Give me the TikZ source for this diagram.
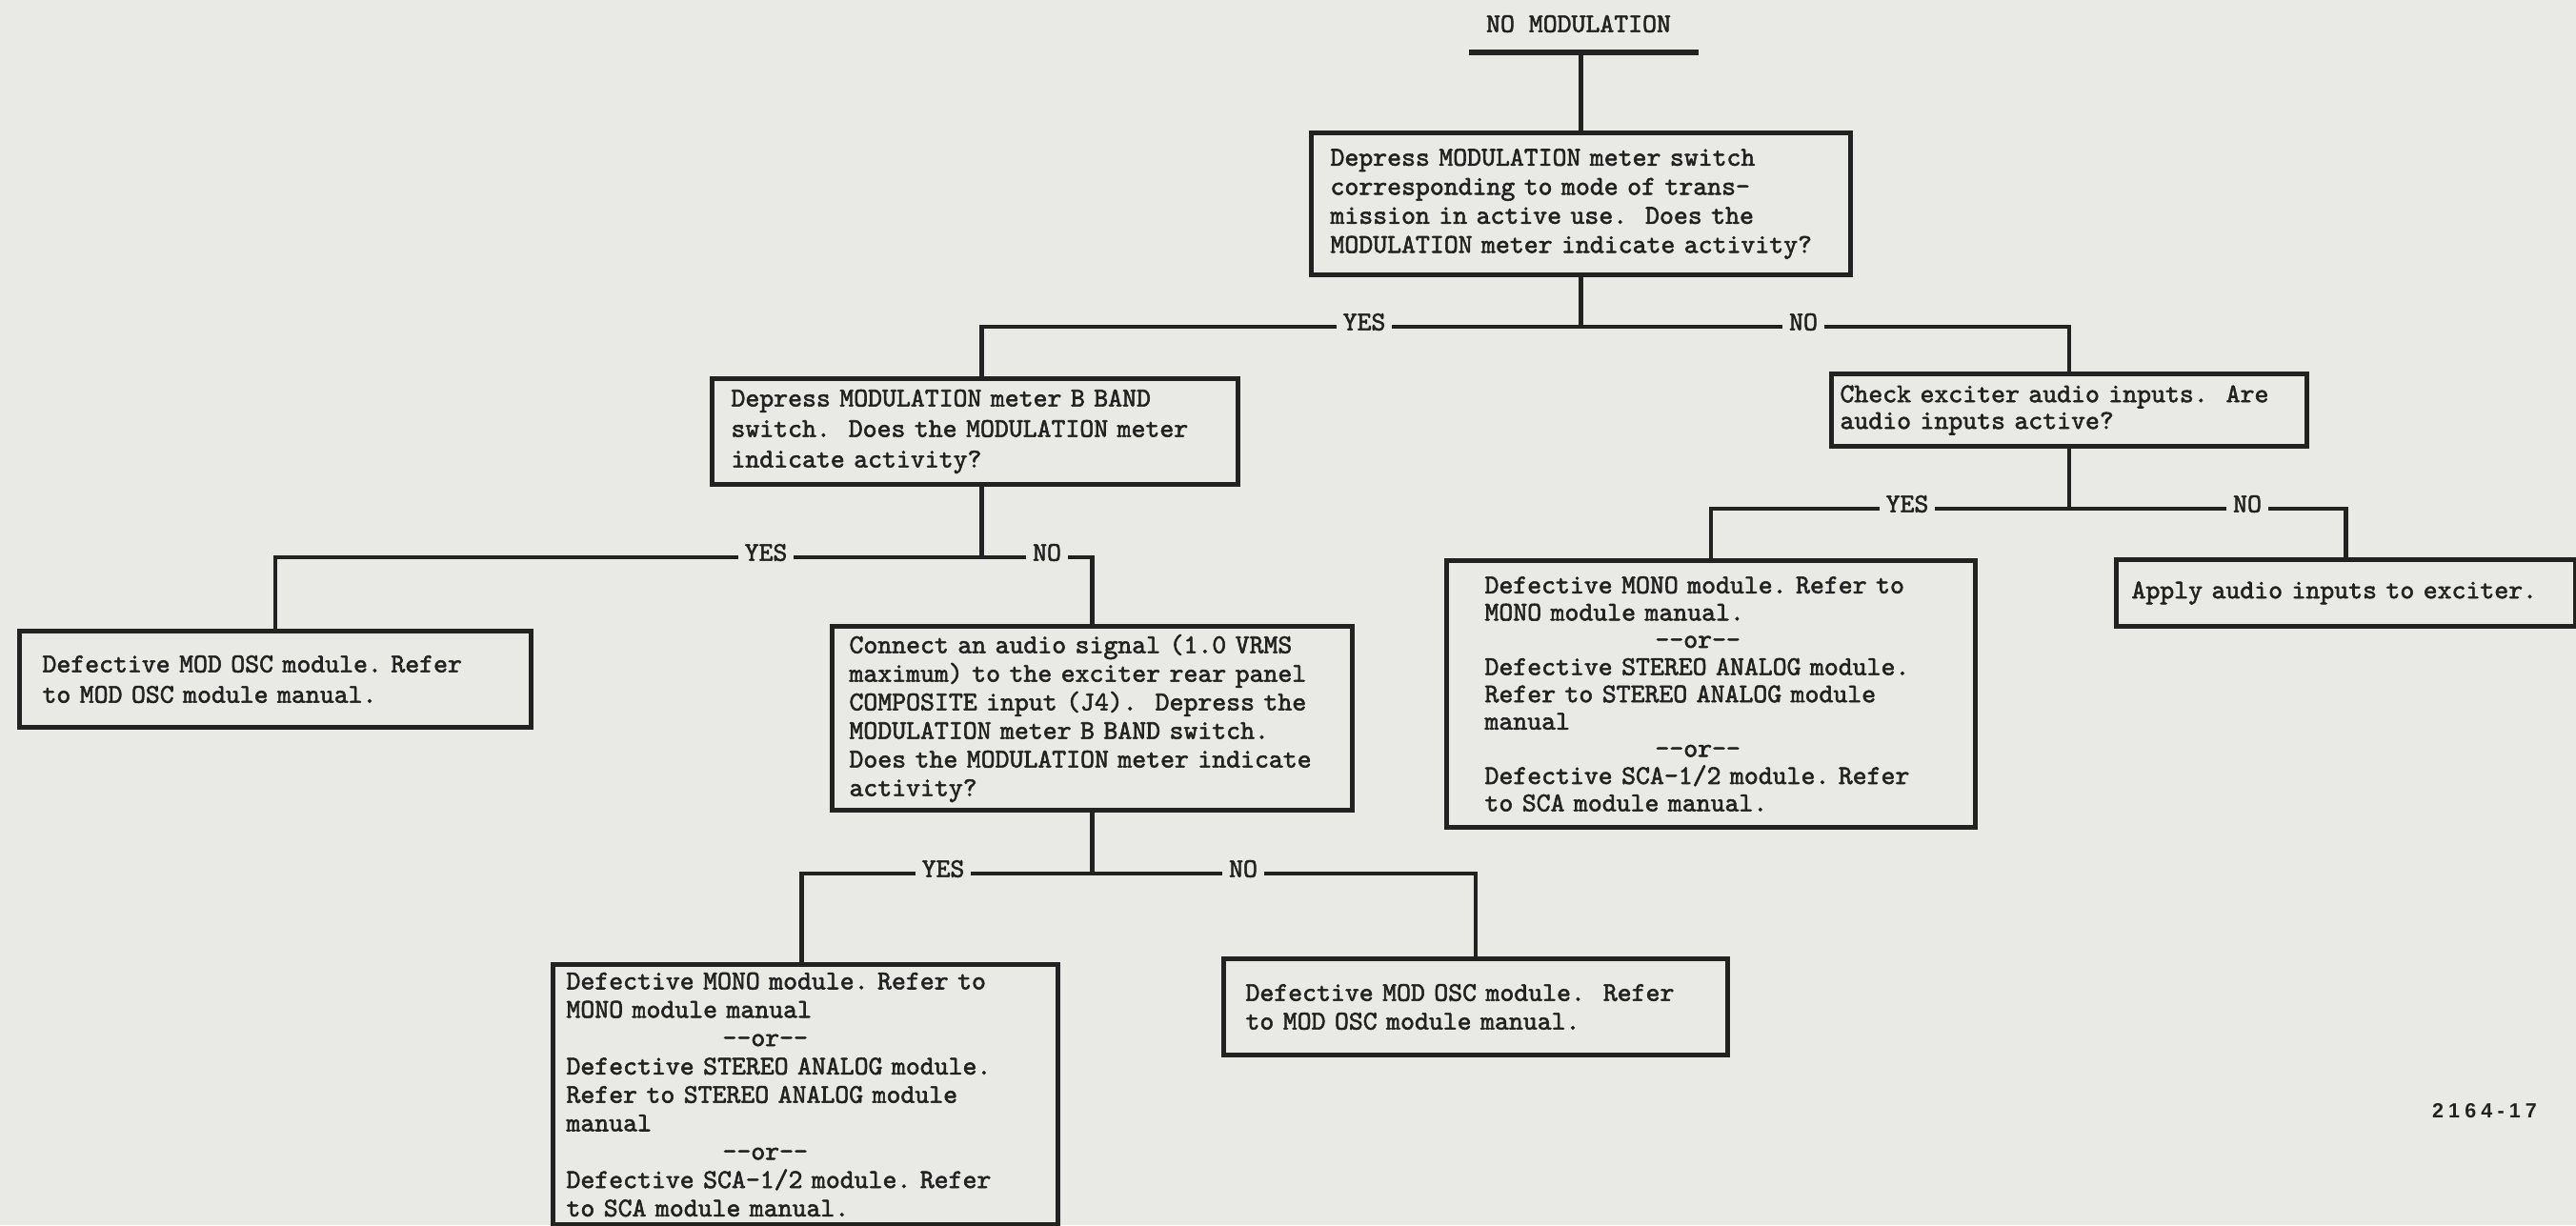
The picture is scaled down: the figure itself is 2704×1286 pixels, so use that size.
\documentclass[tikz,border=0pt]{standalone}
\usepackage{fontspec}
% typewriter face for all flowchart text, slightly heavier than the stock weight
\newfontfamily\typewriter{lmmono10-regular.otf}[FakeBold=2]
\newfontfamily\fignumfont{Liberation Sans}[LetterSpace=24]
\definecolor{paper}{RGB}{233,234,229}
\definecolor{ink}{RGB}{34,34,34}
% indentation by a number of typewriter characters
\newcommand\chars[1]{\hspace*{#1\dimexpr0.525em\relax}}
\newcommand\orline{-\kern0pt-or-\kern0pt-}
\tikzset{
  twfont/.style={font=\typewriter\fontsize{28.4}{#1}\selectfont},
  box/.style={draw=ink, line width=5pt, rectangle, anchor=north west,
    inner xsep=0pt, inner ysep=0pt, align=left, text=ink, twfont=#1},
  box/.default=30,
  wire/.style={draw=ink, line width=4.6pt},
  answer/.style={fill=paper, inner xsep=7pt, inner ysep=3pt, text=ink, twfont=30},
}
\begin{document}
\begin{tikzpicture}[x=1pt, y=-1pt, every node/.style={execute at begin node=\frenchspacing}]
\fill[paper] (0,0) rectangle (2704,1286);
\useasboundingbox (0,0) rectangle (2704,1286);

% heading and entry bar
\node[text=ink, twfont=30] (title) at (1657,25) {NO MODULATION};
\coordinate (barL) at (1542,55);
\coordinate (barR) at (1783,55);

% decision and action boxes
\node[box=30.5, minimum width=566pt, minimum height=149pt, text width=526pt] (A) at (1374,137)
  {Depress MODULATION meter switch\\corresponding to mode of trans-\\mission in active use.~ Does the\\MODULATION meter indicate activity?};
\node[box=32, minimum width=552pt, minimum height=111pt, text width=512pt] (B) at (745,395)
  {Depress MODULATION meter B BAND\\switch.~ Does the MODULATION meter\\indicate activity?};
\node[box=28, minimum width=499pt, minimum height=76pt, text width=481pt] (C) at (1920,390)
  {Check exciter audio inputs.~ Are\\audio inputs active?};
\node[box=32, minimum width=537pt, minimum height=101pt, text width=489pt] (D) at (18,660)
  {Defective MOD OSC module. Refer\\to MOD OSC module manual.};
\node[box=30, minimum width=546pt, minimum height=193pt, text width=510pt] (E) at (871,655)
  {Connect an audio signal (1.0 VRMS\\maximum) to the exciter rear panel\\COMPOSITE input (J4).~ Depress the\\MODULATION meter B BAND switch.\\Does the MODULATION meter indicate\\activity?};
\node[box=29.8, minimum width=530pt, minimum height=273pt, text width=502pt] (F) at (578,1010)
  {Defective MONO module. Refer to\\MONO module manual\\\chars{11}\orline\\Defective STEREO ANALOG module.\\Refer to STEREO ANALOG module\\manual\\\chars{11}\orline\\Defective SCA-1/2 module. Refer\\to SCA module manual.};
\node[box=30, minimum width=529pt, minimum height=101pt, text width=483pt] (G) at (1282,1004)
  {Defective MOD OSC module.~ Refer\\to MOD OSC module manual.};
\node[box=28.6, minimum width=555pt, minimum height=280pt, text width=475pt] (H) at (1516,586)
  {Defective MONO module. Refer to\\MONO module manual.\\\chars{12}\orline\\Defective STEREO ANALOG module.\\Refer to STEREO ANALOG module\\manual\\\chars{12}\orline\\Defective SCA-1/2 module. Refer\\to SCA module manual.};
\node[box=30, minimum width=482pt, minimum height=70pt, text width=450pt] (I) at (2219,585)
  {Apply audio inputs to exciter.};

% branch junctions below each question
\path (A.south) ++(0,52) coordinate (j1);
\path ([xshift=7pt]B.south) ++(0,74) coordinate (j2);
\path (E.south) ++(0,64) coordinate (j3);
\path (C.south) ++(0,63) coordinate (j4);

% connectors
\draw[wire, line width=5.5pt] (barL) -- (barR);
\draw[wire] (barL -| A.north) -- (A.north);
\draw[wire] (A.south) -- (j1);
\draw[wire] ([xshift=7pt]B.north) |- (j1) -| (C.north);
\draw[wire] ([xshift=7pt]B.south) -- (j2);
\draw[wire] (D.north) |- (j2) -| (E.north);
\draw[wire] (E.south) -- (j3);
\draw[wire] ([xshift=-4pt]F.north) |- (j3) -| (G.north);
\draw[wire] (C.south) -- (j4);
\draw[wire] (H.north) |- (j4) -| (I.north);

% answer labels set into the branch lines
\node[answer] (yes1) at (1432,338) {YES};
\node[answer] (no1)  at (1893,338) {NO};
\node[answer] (yes2) at (804,580)  {YES};
\node[answer] (no2)  at (1099,580) {NO};
\node[answer] (yes3) at (990,912)  {YES};
\node[answer] (no3)  at (1305,912) {NO};
\node[answer] (yes4) at (2002,529) {YES};
\node[answer] (no4)  at (2359,529) {NO};

% figure number
\node[text=ink, font=\fignumfont\bfseries\fontsize{21.5}{24}\selectfont] (fignum) at (2608,1166) {2164-17};
\end{tikzpicture}
\end{document}
